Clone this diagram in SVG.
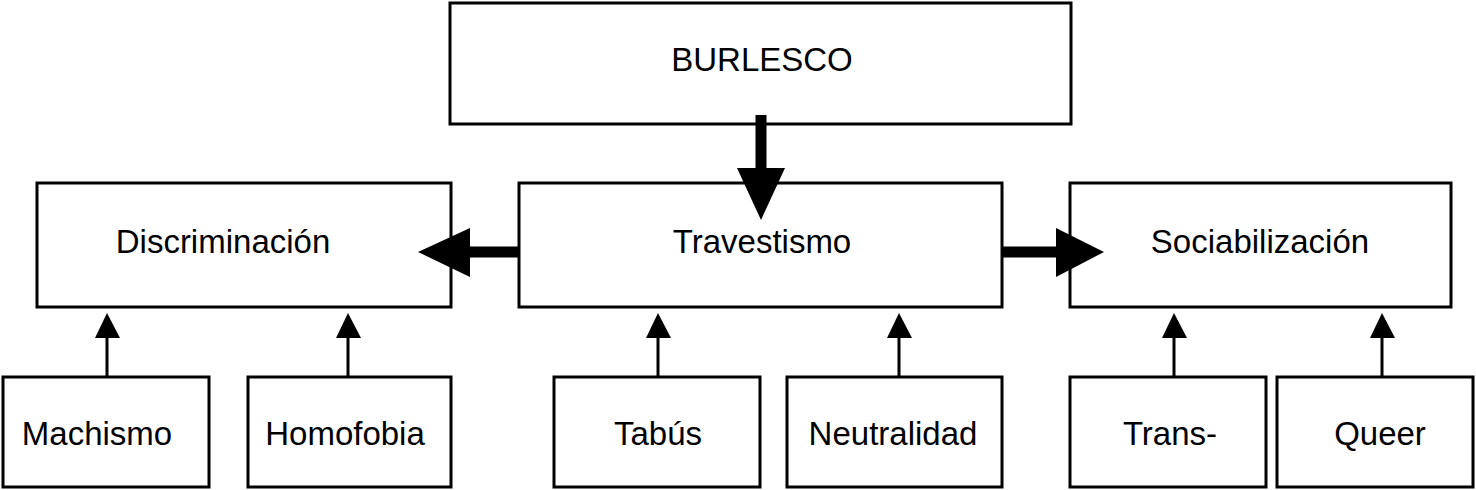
<svg xmlns="http://www.w3.org/2000/svg" width="1476" height="490" viewBox="0 0 1476 490">
<style>
.box{fill:#fff;stroke:#000;stroke-width:3}
.t{font-family:"Liberation Sans",Arial,sans-serif;font-size:33px;fill:#000;text-anchor:middle}
.thin{stroke:#000;stroke-width:3;fill:none}
.thick{stroke:#000;stroke-width:11;fill:none}
.head{fill:#000}
</style>
<rect width="1476" height="490" fill="#fff"/>
<g id="burlesco"><rect class="box" x="450" y="3" width="621" height="121"/><text class="t" x="762" y="71">BURLESCO</text></g>
<g id="discriminacion"><rect class="box" x="37" y="183" width="414" height="124"/><text class="t" x="223" y="253">Discriminación</text></g>
<g id="travestismo"><rect class="box" x="519" y="183" width="483" height="124"/><text class="t" x="762" y="253">Travestismo</text></g>
<g id="sociabilizacion"><rect class="box" x="1070" y="183" width="381" height="124"/><text class="t" x="1260" y="253">Sociabilización</text></g>
<g id="machismo"><rect class="box" x="3" y="377" width="206" height="110"/><text class="t" x="97" y="445">Machismo</text></g>
<g id="homofobia"><rect class="box" x="248" y="377" width="203" height="110"/><text class="t" x="345" y="445">Homofobia</text></g>
<g id="tabus"><rect class="box" x="554" y="377" width="206" height="110"/><text class="t" x="658" y="445">Tabús</text></g>
<g id="neutralidad"><rect class="box" x="787" y="377" width="215" height="110"/><text class="t" x="893" y="445">Neutralidad</text></g>
<g id="trans"><rect class="box" x="1070" y="377" width="196" height="110"/><text class="t" x="1170" y="445">Trans-</text></g>
<g id="queer"><rect class="box" x="1277" y="377" width="196" height="110"/><text class="t" x="1380" y="445">Queer</text></g>
<g id="connectors">
<line class="thick" x1="761" y1="115" x2="761" y2="170"/>
<polygon class="head" points="737,168 785,168 761,220"/>
<line class="thick" x1="519" y1="252" x2="468" y2="252"/>
<polygon class="head" points="470,228 470,277 418,252"/>
<line class="thick" x1="1002" y1="252" x2="1058" y2="252"/>
<polygon class="head" points="1056,228 1056,277 1104,252"/>
<line class="thin" x1="107" y1="377" x2="107" y2="336"/>
<polygon class="head" points="95,338 120,338 107,313"/>
<line class="thin" x1="348" y1="377" x2="348" y2="336"/>
<polygon class="head" points="336,338 361,338 348,313"/>
<line class="thin" x1="658" y1="377" x2="658" y2="336"/>
<polygon class="head" points="646,338 671,338 658,313"/>
<line class="thin" x1="899" y1="377" x2="899" y2="336"/>
<polygon class="head" points="887,338 912,338 899,313"/>
<line class="thin" x1="1174" y1="377" x2="1174" y2="336"/>
<polygon class="head" points="1162,338 1187,338 1174,313"/>
<line class="thin" x1="1382" y1="377" x2="1382" y2="336"/>
<polygon class="head" points="1370,338 1395,338 1382,313"/>
</g>
</svg>
